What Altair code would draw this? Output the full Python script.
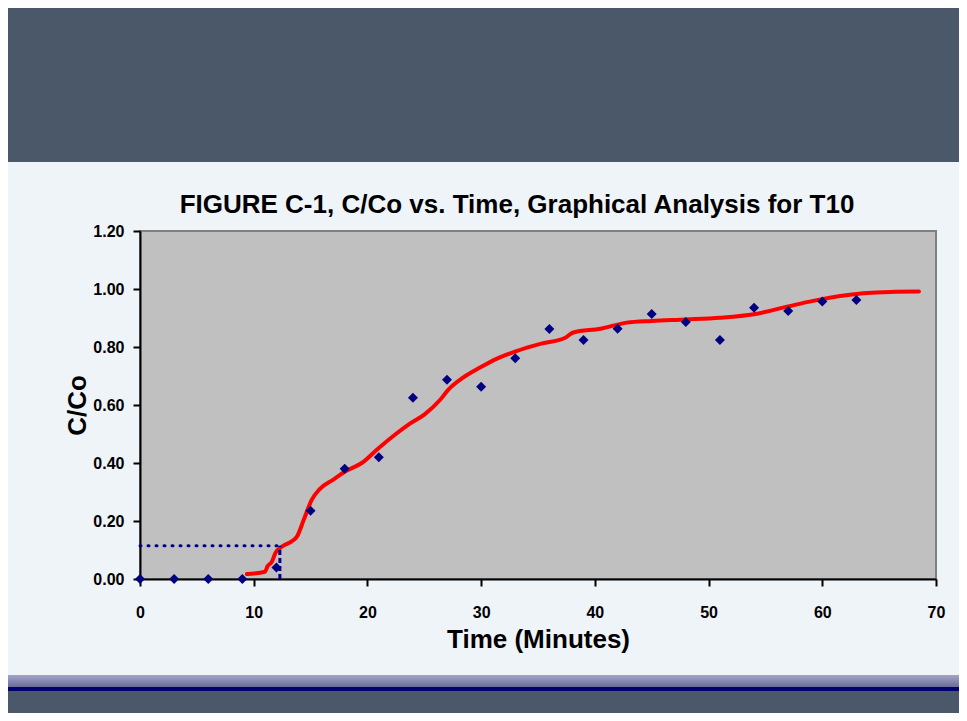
import altair as alt
import pandas as pd

# ---- data ----
times = [0, 3, 6, 9, 12, 15, 18, 21, 24, 27, 30, 33, 36, 39, 42, 45, 48, 51, 54, 57, 60, 63]
ratio = [0.0, 0.0, 0.0, 0.0, 0.04, 0.235, 0.38, 0.42, 0.625, 0.687, 0.663, 0.761, 0.862,
         0.824, 0.863, 0.914, 0.886, 0.824, 0.935, 0.924, 0.957, 0.962]

fit_t = [9.4, 11.0, 11.2, 11.6, 11.9, 12.5, 13.3, 13.8, 14.4, 15.1, 15.8, 17.0, 18.0, 19.5,
         21.0, 22.5, 23.7, 25.0, 26.4, 27.1, 28.4, 29.9, 31.4, 33.1, 35.2, 37.4, 38.1, 40.5,
         42.8, 45.0, 48.0, 51.0, 54.0, 57.0, 59.2, 63.6, 66.0, 68.5]
fit_c = [0.017, 0.025, 0.043, 0.06, 0.089, 0.112, 0.129, 0.146, 0.204, 0.273, 0.31, 0.343,
         0.37, 0.40, 0.452, 0.50, 0.535, 0.567, 0.618, 0.652, 0.694, 0.729, 0.76, 0.786,
         0.811, 0.832, 0.85, 0.863, 0.884, 0.89, 0.895, 0.901, 0.913, 0.94, 0.959, 0.985,
         0.99, 0.991]

break_time = 12.3
break_ratio = 0.115

x_ticks = [0, 10, 20, 30, 40, 50, 60, 70]
y_ticks = [0.0, 0.2, 0.4, 0.6, 0.8, 1.0, 1.2]

title_text = "FIGURE C-1, C/Co vs. Time, Graphical Analysis for T10"
x_title = "Time (Minutes)"
y_title = "C/Co"

FONT = "Liberation Sans"
W, H = 796, 348

pts = pd.DataFrame({"t": times, "c": ratio})
fit = pd.DataFrame({"t": fit_t, "c": fit_c})
hline = pd.DataFrame({"t": [0], "t2": [break_time], "c": [break_ratio]})
vline = pd.DataFrame({"t": [break_time], "c": [0.0], "c2": [break_ratio]})
one = pd.DataFrame({"d": [0]})

X = alt.X("t:Q", scale=alt.Scale(domain=[0, 70], nice=False),
          axis=alt.Axis(values=x_ticks, title=x_title, format="d", labelPadding=18,
                        titlePadding=6, labelFlush=False))
Y = alt.Y("c:Q", scale=alt.Scale(domain=[0, 1.2], nice=False),
          axis=alt.Axis(values=y_ticks, title=y_title, format=".2f", labelPadding=9,
                        titlePadding=2, labelFlush=False))

# decorative slide bands (outside the plot area)
def band(y1, y2, color):
    return alt.Chart(one).mark_rect(color=color).encode(
        x=alt.value(-132), x2=alt.value(819), y=alt.value(y1), y2=alt.value(y2))

top_band = band(-223, -69, "#4b586a")
grad = alt.Chart(one).mark_rect(
    color=alt.Gradient(gradient="linear",
                       stops=[alt.GradientStop(color="#a4a4c8", offset=0),
                              alt.GradientStop(color="#6c6c9c", offset=1)],
                       x1=0, x2=0, y1=0, y2=1)
).encode(x=alt.value(-132), x2=alt.value(819), y=alt.value(444), y2=alt.value(456))
navy = band(456, 460, "#00006e")
bottom_band = band(460, 482, "#4b586a")

line = alt.Chart(fit).mark_line(color="#ff0000", strokeWidth=4, interpolate="monotone",
                                strokeCap="round").encode(x=X, y=Y)
h_rule = alt.Chart(hline).mark_rule(color="#000080", strokeWidth=3, strokeDash=[1, 7],
                                    strokeCap="round").encode(x=X, x2="t2:Q", y=Y)
v_rule = alt.Chart(vline).mark_rule(color="#000080", strokeWidth=3, strokeDash=[5, 3]).encode(
    x=X, y=Y, y2="c2:Q")
points = alt.Chart(pts).mark_point(shape="diamond", filled=True, color="#000080", size=100,
                                   opacity=1).encode(x=X, y=Y)

chart = alt.layer(top_band, grad, navy, bottom_band, line, h_rule, v_rule, points).properties(
    width=W, height=H,
    autosize=alt.AutoSizeParams(type="none"),
    padding={"left": 132, "top": 223, "right": 23, "bottom": 134},
    background="#eff4f9",
    title=alt.TitleParams(title_text, font=FONT, fontSize=26, fontWeight="bold",
                          color="#000000", anchor="middle", offset=15, dx=-21, dy=225),
).configure_view(
    fill="#c0c0c0", stroke="#808080", strokeWidth=2
).configure_axis(
    grid=False, domainColor="#000000", domainWidth=2, tickColor="#000000", tickWidth=2,
    tickSize=7, labelFont=FONT, labelFontSize=16, labelFontWeight="bold",
    labelColor="#000000", titleFont=FONT, titleFontSize=26, titleFontWeight="bold",
    titleColor="#000000"
)

chart.save("out.html", embed_options={"renderer": "svg", "actions": False})
